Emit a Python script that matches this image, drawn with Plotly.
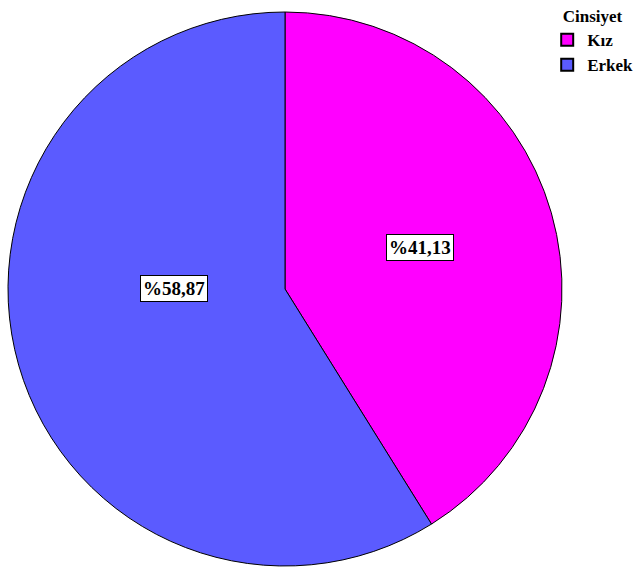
import plotly.graph_objects as go
import math

labels = ["Kız", "Erkek"]
values = [41.13, 58.87]
colors = ["#FF00FF", "#5B5BFF"]
legend_title = "Cinsiyet"

W, H = 640, 567
cx, cy, R = 285, 289, 277

fig = go.Figure()
fig.add_trace(go.Pie(
    labels=labels, values=values, sort=False, direction="clockwise", rotation=0,
    marker=dict(colors=colors, line=dict(color="black", width=1)),
    textinfo="none", hoverinfo="label+percent",
    domain=dict(x=[(cx - R) / W, (cx + R) / W], y=[1 - (cy + R) / H, 1 - (cy - R) / H]),
))

# label positions (fraction of radius, angle offset tweaks)
label_pos = [(0.51, -1), (0.40, 16)]
total = sum(values)
start = 0.0
for v, (rf, adj) in zip(values, label_pos):
    mid = (start + v / 2) / total * 360 + adj
    start += v
    a = math.radians(mid)
    x = cx + rf * R * math.sin(a)
    y = cy - rf * R * math.cos(a)
    fig.add_annotation(
        x=x / W, y=1 - y / H, xref="paper", yref="paper",
        xanchor="center", yanchor="middle",
        text="<b>%" + f"{v:.2f}".replace(".", ",") + "</b>", showarrow=False,
        font=dict(family="Liberation Serif", size=19, color="black"),
        bgcolor="white", bordercolor="black", borderwidth=1, borderpad=2,
    )

fig.update_layout(
    width=W, height=H, margin=dict(l=0, r=0, t=0, b=0, autoexpand=False),
    paper_bgcolor="white", plot_bgcolor="white",
    showlegend=True,
    legend=dict(
        title=dict(text="<b>" + legend_title + "</b>", side="top center",
                   font=dict(family="Liberation Serif", size=17, color="black")),
        font=dict(family="Liberation Serif", size=17, color="black", weight="bold"),
        x=0.855, y=1.0, xanchor="left", yanchor="top",
        itemsizing="constant", tracegroupgap=0, itemwidth=30,
    ),
)
fig.write_html("out.html")
